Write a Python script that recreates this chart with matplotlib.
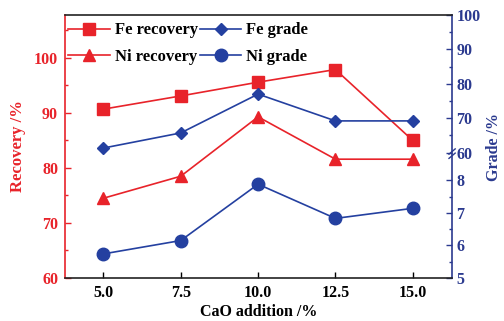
import numpy as np
import matplotlib
matplotlib.use("Agg")
import matplotlib.pyplot as plt
from matplotlib.lines import Line2D

# ---- data ----
cao = [5.0, 7.5, 10.0, 12.5, 15.0]
xtick_labels = ["5.0", "7.5", "10.0", "12.5", "15.0"]
fe_recovery = [90.7, 93.1, 95.6, 97.9, 85.0]
ni_recovery = [74.5, 78.5, 89.3, 81.6, 81.6]
fe_grade = [61.3, 65.7, 77.0, 69.2, 69.2]
ni_grade = [5.74, 6.15, 7.88, 6.83, 7.14]
left_ticks = [60, 70, 80, 90, 100]
right_ticks = [5, 6, 7, 8, 60, 70, 80, 90, 100]

RED = "#e8232a"
BLUE = "#2440a0"
NAVY = "#2b3a8f"
FONT = "Liberation Serif"
FS = 12

plt.rcParams['font.family'] = [FONT, 'DejaVu Serif']
plt.rcParams['font.weight'] = 'bold'

fig = plt.figure(figsize=(5.04, 3.21), dpi=100)
ax = fig.add_axes([0.129, 0.134, 0.768, 0.819])
ax2 = ax.twinx()

# broken right axis: piecewise linear scale
gp = np.array([-100.0, 5.0, 8.6, 60.0, 100.0, 1000.0])
up = np.array([-105 * 32.7, 0.0, 117.7, 126.0, 264.0, 264.0 + 900 * 3.45])


def fwd(g):
    return np.interp(g, gp, up)


def inv(u):
    return np.interp(u, up, gp)


ax2.set_yscale('function', functions=(fwd, inv))

ax.plot(cao, fe_recovery, color=RED, marker='s', markersize=8, lw=1.2, label='Fe recovery', zorder=3)
ax.plot(cao, ni_recovery, color=RED, marker='^', markersize=8, lw=1.2, label='Ni recovery', zorder=3)
ax2.plot(cao, fe_grade, color=BLUE, marker='D', markersize=6.5, lw=1.2, label='Fe grade', zorder=3)
ax2.plot(cao, ni_grade, color=BLUE, marker='o', markersize=9, lw=1.2, label='Ni grade', zorder=3)

ax.set_xlim(3.76, 16.27)
ax.set_ylim(60, 107.8)
ax2.set_ylim(5, 100)

ax.set_xticks(cao)
ax.set_xticklabels(xtick_labels)
ax.set_yticks(left_ticks)
ax.set_yticks([65, 75, 85, 95, 105], minor=True)
ax2.set_yticks(right_ticks)
ax2.set_yticklabels([str(t) for t in right_ticks])
ax2.set_yticks([5.5, 6.5, 7.5, 65, 75, 85, 95], minor=True)
ax2.yaxis.set_minor_formatter(matplotlib.ticker.NullFormatter())

ax.tick_params(axis='x', direction='in', length=4, width=1, colors='black', labelsize=FS - 0.5, pad=5)
ax.tick_params(axis='y', which='major', direction='in', length=4, width=1, colors=RED, labelsize=FS - 0.5, pad=5)
ax.tick_params(axis='y', which='minor', direction='in', length=2.5, width=1, colors=RED)
ax2.tick_params(axis='y', which='major', direction='in', length=4, width=1, colors=NAVY, labelsize=FS - 0.5, pad=3)
ax2.tick_params(axis='y', which='minor', direction='in', length=2.5, width=1, colors=NAVY)

for sp in ['top', 'bottom']:
    ax2.spines[sp].set_color('#222222')
    ax2.spines[sp].set_linewidth(1.2)
ax2.spines['left'].set_color(RED)
ax2.spines['left'].set_linewidth(1.2)
ax2.spines['right'].set_color(NAVY)
ax2.spines['right'].set_linewidth(1.2)
for sp in ax.spines.values():
    sp.set_visible(False)

ax.set_xlabel('CaO addition /%', fontsize=11.5, fontweight='bold', color='black', labelpad=2)
ax.set_ylabel('Recovery /%', fontsize=FS, fontweight='bold', color=RED, labelpad=6)
ax2.set_ylabel('Grade /%', fontsize=11.5, fontweight='bold', color=NAVY, labelpad=4)

# break mark on right spine
for dy in (0.0, 0.016):
    ax2.plot([0.992, 1.008], [0.455 + dy, 0.475 + dy], transform=ax2.transAxes,
             color=NAVY, lw=1.0, clip_on=False, zorder=5)

handles = [
    Line2D([], [], color=RED, marker='s', markersize=8, lw=1.2),
    Line2D([], [], color=RED, marker='^', markersize=8, lw=1.2),
    Line2D([], [], color=BLUE, marker='D', markersize=6.5, lw=1.2),
    Line2D([], [], color=BLUE, marker='o', markersize=9, lw=1.2),
]
labels = ['Fe recovery', 'Ni recovery', 'Fe grade', 'Ni grade']
ax2.legend(handles, labels, ncol=2, loc='upper left', bbox_to_anchor=(0.0, 0.985),
           frameon=False, fontsize=FS, handlelength=2.5, handletextpad=0.3,
           columnspacing=0.1, labelspacing=0.65, borderaxespad=0.0, borderpad=0.2)

fig.savefig('out.png', dpi=100)
